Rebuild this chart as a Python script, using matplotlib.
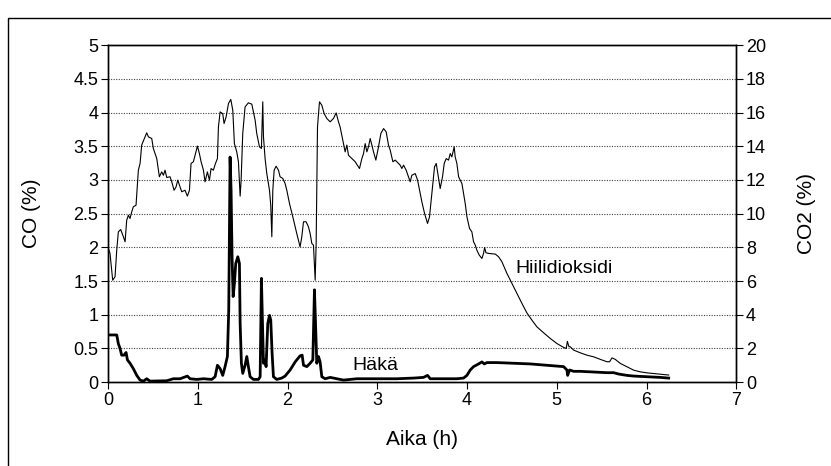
import matplotlib.pyplot as plt
from matplotlib.patches import Rectangle

plt.rcParams['font.family'] = ['Liberation Sans', 'DejaVu Sans']

# Hiilidioksidi (CO2 %), oikea akseli
t_co2 = [0.004, 0.022, 0.052, 0.078, 0.097, 0.115, 0.141, 0.171, 0.190, 0.208,
         0.227, 0.245, 0.264, 0.282, 0.312, 0.338, 0.357, 0.375, 0.412, 0.431,
         0.450, 0.487, 0.505, 0.543, 0.572, 0.598, 0.617, 0.635, 0.654, 0.691,
         0.710, 0.736, 0.758, 0.777, 0.803, 0.821, 0.858, 0.884, 0.907, 0.925,
         0.951, 0.970, 0.996, 1.018, 1.037, 1.063, 1.081, 1.107, 1.130, 1.148,
         1.174, 1.197, 1.219, 1.230, 1.249, 1.278, 1.293, 1.316, 1.342, 1.368,
         1.390, 1.408, 1.434, 1.453, 1.472, 1.483, 1.501, 1.527, 1.564, 1.602,
         1.639, 1.657, 1.687, 1.709, 1.724, 1.732, 1.750, 1.769, 1.799, 1.813,
         1.825, 1.836, 1.851, 1.873, 1.899, 1.917, 1.947, 1.973, 1.992, 2.022,
         2.059, 2.103, 2.140, 2.159, 2.178, 2.207, 2.233, 2.252, 2.271, 2.289,
         2.308, 2.319, 2.334, 2.356, 2.382, 2.408, 2.438, 2.475, 2.512, 2.542,
         2.568, 2.586, 2.616, 2.642, 2.661, 2.679, 2.717, 2.754, 2.802, 2.828,
         2.847, 2.865, 2.884, 2.902, 2.921, 2.940, 2.958, 2.984, 3.014, 3.040,
         3.070, 3.099, 3.125, 3.144, 3.174, 3.200, 3.218, 3.255, 3.274, 3.293,
         3.322, 3.367, 3.385, 3.423, 3.449, 3.471, 3.497, 3.527, 3.560, 3.582,
         3.608, 3.638, 3.657, 3.675, 3.701, 3.727, 3.746, 3.768, 3.794, 3.813,
         3.831, 3.857, 3.868, 3.887, 3.906, 3.943, 3.961, 3.980, 3.999, 4.028,
         4.054, 4.073, 4.092, 4.110, 4.136, 4.166, 4.184, 4.196, 4.211, 4.240,
         4.315, 4.352, 4.389, 4.445, 4.500, 4.556, 4.612, 4.667, 4.723, 4.779,
         4.853, 4.928, 5.002, 5.076, 5.106, 5.118, 5.136, 5.150, 5.188, 5.262,
         5.336, 5.411, 5.485, 5.559, 5.589, 5.615, 5.652, 5.708, 5.782, 5.857,
         5.931, 6.005, 6.079, 6.154, 6.247]
co2 = [7.93, 7.64, 6.05, 6.25, 7.83, 8.92, 9.06, 8.63, 8.33, 9.61,
       9.91, 9.71, 10.11, 10.41, 10.50, 12.58, 12.98, 14.07, 14.56, 14.80,
       14.56, 14.46, 13.87, 13.27, 12.19, 12.48, 12.28, 12.58, 12.15, 12.19,
       11.89, 11.39, 11.59, 11.99, 11.59, 11.30, 11.39, 11.04, 11.39, 12.98,
       13.08, 13.47, 14.01, 13.57, 13.08, 12.58, 11.89, 12.48, 11.99, 12.68,
       12.58, 12.98, 13.27, 15.15, 16.04, 15.94, 15.35, 15.75, 16.54, 16.78,
       16.14, 14.16, 13.67, 13.08, 11.04, 11.99, 14.76, 16.34, 16.58, 16.50,
       15.55, 14.76, 13.97, 13.87, 16.64, 14.56, 13.27, 12.38, 11.39, 10.50,
       8.63, 11.39, 12.58, 12.82, 12.58, 12.19, 12.09, 11.79, 11.39, 10.60,
       9.81, 8.82, 8.03, 8.63, 9.52, 9.52, 9.22, 8.82, 8.23, 8.13,
       6.05, 8.23, 15.15, 16.64, 16.44, 15.94, 15.65, 15.45, 15.65, 15.98,
       15.45, 15.15, 14.36, 13.67, 14.07, 13.47, 13.27, 13.08, 12.68, 13.27,
       13.57, 14.16, 13.67, 13.97, 14.46, 14.07, 13.67, 13.18, 13.97, 14.76,
       15.05, 14.86, 14.07, 13.77, 13.08, 13.18, 13.08, 12.88, 12.68, 12.88,
       12.58, 11.89, 12.28, 12.38, 11.99, 11.39, 10.70, 10.01, 9.42, 9.81,
       11.20, 12.78, 12.98, 12.38, 11.49, 12.19, 12.98, 13.27, 13.18, 13.57,
       13.37, 13.97, 13.37, 12.98, 12.19, 11.79, 11.20, 10.60, 9.81, 9.12,
       8.92, 8.33, 8.13, 7.83, 7.54, 7.34, 7.64, 7.99, 7.68, 7.64,
       7.60, 7.44, 7.14, 6.45, 5.86, 5.26, 4.67, 4.11, 3.68, 3.28,
       2.93, 2.59, 2.29, 2.06, 2.00, 2.42, 2.10, 2.10, 1.90, 1.74,
       1.60, 1.50, 1.35, 1.21, 1.21, 1.44, 1.35, 1.11, 0.91, 0.71,
       0.61, 0.55, 0.51, 0.47, 0.42]

# Häkä (CO %), vasen akseli
t_co = [0.004, 0.097, 0.115, 0.134, 0.152, 0.178, 0.201, 0.216, 0.245, 0.282,
        0.320, 0.357, 0.394, 0.431, 0.468, 0.654, 0.728, 0.803, 0.884, 0.914,
        0.988, 1.063, 1.156, 1.193, 1.219, 1.249, 1.278, 1.304, 1.330, 1.345,
        1.360, 1.371, 1.382, 1.394, 1.408, 1.423, 1.446, 1.464, 1.472, 1.486,
        1.501, 1.527, 1.546, 1.564, 1.583, 1.620, 1.676, 1.695, 1.709, 1.721,
        1.732, 1.750, 1.761, 1.780, 1.799, 1.813, 1.828, 1.843, 1.880, 1.936,
        1.973, 2.029, 2.085, 2.140, 2.163, 2.178, 2.215, 2.252, 2.282, 2.300,
        2.312, 2.326, 2.345, 2.363, 2.382, 2.419, 2.475, 2.624, 2.772, 3.032,
        3.218, 3.404, 3.515, 3.560, 3.590, 3.701, 3.887, 3.961, 3.999, 4.036,
        4.073, 4.129, 4.166, 4.192, 4.222, 4.333, 4.519, 4.705, 4.890, 5.076,
        5.113, 5.121, 5.143, 5.188, 5.262, 5.411, 5.559, 5.634, 5.689, 5.782,
        5.857, 6.005, 6.154, 6.247]
co = [0.70, 0.70, 0.57, 0.50, 0.40, 0.40, 0.44, 0.33, 0.28, 0.20,
      0.10, 0.03, 0.015, 0.05, 0.015, 0.02, 0.05, 0.05, 0.09, 0.05,
      0.04, 0.05, 0.04, 0.08, 0.25, 0.20, 0.10, 0.23, 0.38, 1.07,
      3.34, 2.85, 1.86, 1.27, 1.46, 1.76, 1.86, 1.76, 0.87, 0.28,
      0.13, 0.25, 0.38, 0.23, 0.08, 0.04, 0.04, 0.08, 1.54, 0.87,
      0.28, 0.33, 0.23, 0.87, 0.99, 0.92, 0.43, 0.08, 0.04, 0.06,
      0.09, 0.18, 0.30, 0.39, 0.40, 0.25, 0.23, 0.28, 0.33, 1.37,
      0.87, 0.28, 0.38, 0.30, 0.08, 0.05, 0.07, 0.03, 0.05, 0.05,
      0.05, 0.06, 0.07, 0.10, 0.05, 0.05, 0.05, 0.06, 0.10, 0.18,
      0.23, 0.27, 0.30, 0.27, 0.29, 0.29, 0.28, 0.27, 0.25, 0.23,
      0.18, 0.10, 0.18, 0.16, 0.16, 0.15, 0.14, 0.14, 0.12, 0.10,
      0.09, 0.08, 0.07, 0.06]

fig = plt.figure(figsize=(8.31, 4.66), dpi=100)
ax = fig.add_axes([0.130, 0.180, 0.756, 0.723])
ax2 = ax.twinx()

# kehys kuvan ympärillä
fig.patches.append(Rectangle((8 / 831, -0.1), 1.2, 1.1 - 18 / 466, transform=fig.transFigure,
                             fill=False, edgecolor='black', linewidth=1.0))

for y in [0.5 * i for i in range(1, 10)]:
    ax.axhline(y, color='0.25', linestyle=(0, (1, 1.3)), linewidth=0.8, zorder=1)

ax2.plot(t_co2, co2, color='black', linewidth=0.8, zorder=3)
ax.plot(t_co, co, color='black', linewidth=2.0, zorder=4)

ax.set_xlim(0, 7)
ax.set_ylim(0, 5)
ax2.set_ylim(0, 20)
ax.set_xticks(range(8))
ax.set_yticks([0.5 * i for i in range(11)])
ax.set_yticklabels(['0', '0.5', '1', '1.5', '2', '2.5', '3', '3.5', '4', '4.5', '5'])
ax2.set_yticks(range(0, 21, 2))

for a in (ax, ax2):
    a.tick_params(direction='out', length=5, width=0.8, labelsize=13, pad=2)
    for s in a.spines.values():
        s.set_linewidth(1.0)

ax.set_xlabel('Aika (h)', fontsize=15)
ax.set_ylabel('CO (%)', fontsize=15)
ax2.set_ylabel('CO2 (%)', fontsize=15)
ax.xaxis.set_label_coords(0.5, -0.142)
ax.yaxis.set_label_coords(-0.107, 0.5)
ax2.yaxis.set_label_coords(1.097, 0.5)

ax.text(4.54, 1.69, 'Hiilidioksidi', fontsize=14, va='center', ha='left')
ax.text(2.72, 0.25, 'Häkä', fontsize=14, va='center', ha='left')

fig.savefig('out.png', dpi=100)
